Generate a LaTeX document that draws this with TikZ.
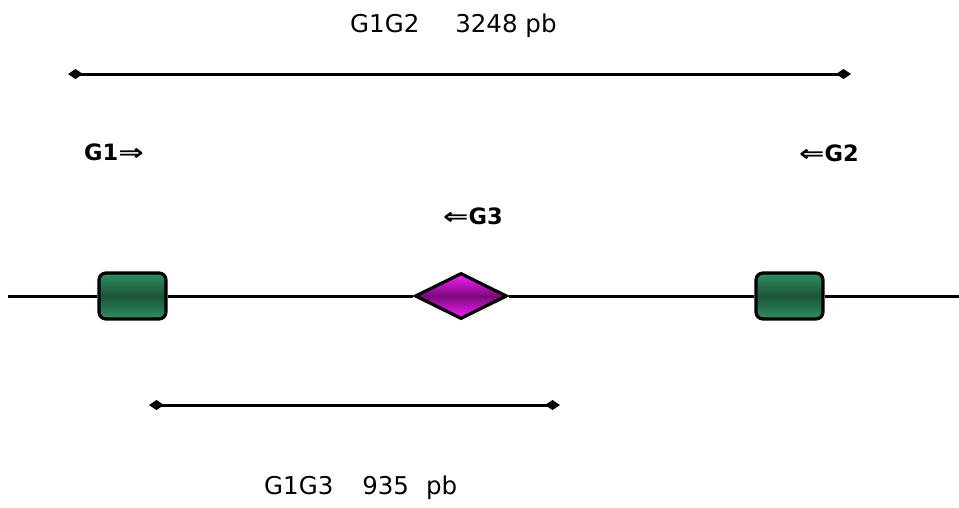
\documentclass[tikz,border=0pt]{standalone}
\usepackage{fontspec}
\setmainfont{DejaVu Sans}
\usetikzlibrary{arrows.meta,shapes.geometric}
\definecolor{boxouter}{HTML}{2F8F62}
\definecolor{boxinner}{HTML}{1B5438}
\definecolor{gemouter}{HTML}{FF1CFF}
\definecolor{geminner}{HTML}{7A0A7A}
\newcommand{\rarr}{\scalebox{1.35}[1]{⇒}}
\newcommand{\larr}{\scalebox{1.35}[1]{⇐}}
\tikzset{
  exonbox/.style={draw=black, line width=3.2pt, rounded corners=7pt,
    minimum width=67pt, minimum height=46pt, inner sep=0pt,
    top color=boxouter, bottom color=boxouter, middle color=boxinner},
  sitegem/.style={diamond, draw=black, line width=3.2pt, inner sep=0pt,
    minimum width=92pt, minimum height=46pt,
    top color=gemouter, bottom color=gemouter, middle color=geminner},
  backbone/.style={line width=3pt},
  spanline/.style={line width=3pt, {Diamond[length=15pt,width=10pt]}-{Diamond[length=15pt,width=10pt]}},
  spantext/.style={font=\fontsize{24.5}{29}\selectfont, anchor=base west, inner sep=0pt},
  primer/.style={font=\fontsize{22.5}{27}\selectfont\bfseries, anchor=base west, inner sep=0pt}
}
\begin{document}
\begin{tikzpicture}[x=1pt,y=-1pt]
  \useasboundingbox (0,0) rectangle (959,507);

  % DNA backbone ends
  \coordinate (left) at (8,296);
  \coordinate (right) at (959,296);

  % exons and central site
  \node[exonbox] (ex1) at (132.5,296) {};
  \node[exonbox] (ex2) at (789.5,296) {};
  \node[sitegem] (site) at (461,296) {};

  % backbone segments between elements
  \draw[backbone] (left) -- (ex1.west);
  \draw[backbone] (ex1.east) -- (site.west);
  \draw[backbone] (site.east) -- (ex2.west);
  \draw[backbone] (ex2.east) -- (right);

  % amplicon spans
  \coordinate (s12a) at (68,74);
  \coordinate (s12b) at (851,74);
  \draw[spanline] (s12a) -- (s12b);
  \coordinate (s13a) at (149,405);
  \coordinate (s13b) at (560,405);
  \draw[spanline] (s13a) -- (s13b);

  % span labels
  \node[spantext] (t12) at (350,32) {G1G2\hspace{36pt}3248 pb};
  \node[spantext] (t13) at (264,494) {G1G3\hspace{29pt}935\hspace{17pt}pb};

  % primers
  \node[primer] (g1) at (84,160) {G1\rarr};
  \node[primer] (g2) at (799,161) {\larr G2};
  \node[primer] (g3) at (443,224) {\larr G3};
\end{tikzpicture}
\end{document}
